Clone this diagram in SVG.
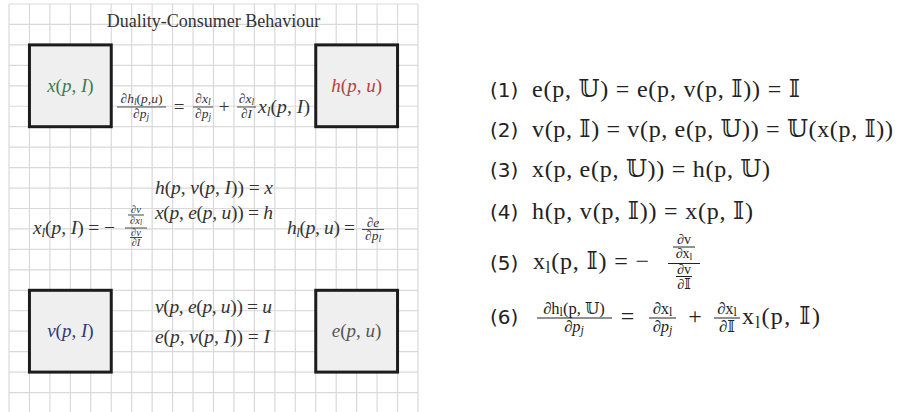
<svg xmlns="http://www.w3.org/2000/svg" width="898" height="412" viewBox="0 0 898 412">
<style>
.grid{stroke:#d9d9d9;stroke-width:1.2;fill:none}
.box{fill:#efefef;stroke:#1c1c1c;stroke-width:3}
.m{font-family:"Liberation Serif","DejaVu Serif",serif;fill:#333}
.i{font-style:italic}
.bar{stroke:#333;stroke-width:0.9}
.n{font-family:"DejaVu Sans","Liberation Sans",sans-serif;fill:#222}
.r{font-family:"Liberation Serif","DejaVu Serif",serif;fill:#222}
.bar2{stroke:#222;stroke-width:1}
.g{fill:#3b7d52}
.rd{fill:#b5403f}
.bl{fill:#33397e}
.gy{fill:#555}
</style>
<rect width="898" height="412" fill="#fff"/>
<g id="grid">
<path class="grid" d="M9 4V412M29.45 4V412M49.9 4V412M70.35 4V412M90.8 4V412M111.25 4V412M131.7 4V412M152.15 4V412M172.6 4V412M193.05 4V412M213.5 4V412M233.95 4V412M254.4 4V412M274.85 4V412M295.3 4V412M315.75 4V412M336.2 4V412M356.65 4V412M377.1 4V412M397.55 4V412M418 4V412M9 4H418M9 24.45H418M9 44.9H418M9 65.35H418M9 85.8H418M9 106.25H418M9 126.7H418M9 147.15H418M9 167.6H418M9 188.05H418M9 208.5H418M9 228.95H418M9 249.4H418M9 269.85H418M9 290.3H418M9 310.75H418M9 331.2H418M9 351.65H418M9 372.1H418M9 392.55H418"/>
</g>
<text id="title" class="m" x="213.5" y="27" font-size="18" text-anchor="middle">Duality-Consumer Behaviour</text>
<g id="node-x">
<rect class="box" x="29.45" y="44.9" width="81.8" height="81.8"/>
<text class="m g" x="70.35" y="92" font-size="19" text-anchor="middle"><tspan class="i">x</tspan>(<tspan class="i">p</tspan>, <tspan class="i">I</tspan>)</text>
</g>
<g id="node-h">
<rect class="box" x="315.75" y="44.9" width="81.8" height="81.8"/>
<text class="m rd" x="356.65" y="92" font-size="19" text-anchor="middle"><tspan class="i">h</tspan>(<tspan class="i">p</tspan>, <tspan class="i">u</tspan>)</text>
</g>
<g id="node-v">
<rect class="box" x="29.45" y="290.3" width="81.8" height="81.8"/>
<text class="m bl" x="70.35" y="337" font-size="19" text-anchor="middle"><tspan class="i">v</tspan>(<tspan class="i">p</tspan>, <tspan class="i">I</tspan>)</text>
</g>
<g id="node-e">
<rect class="box" x="315.75" y="290.3" width="81.8" height="81.8"/>
<text class="m gy" x="356.65" y="337" font-size="19" text-anchor="middle"><tspan class="i">e</tspan>(<tspan class="i">p</tspan>, <tspan class="i">u</tspan>)</text>
</g>
<g id="connectors"></g>
<g id="labels">
<text class="m" x="141.5" y="102.5" font-size="13.5" text-anchor="middle">∂<tspan class="i">h</tspan><tspan class="i" font-size="9.5" dy="2">l</tspan><tspan dy="-2">(</tspan><tspan class="i">p</tspan>,<tspan class="i">u</tspan>)</text>
<line class="bar" x1="117" y1="107" x2="166" y2="107"/>
<text class="m" x="141" y="117.5" font-size="13.5" text-anchor="middle">∂<tspan class="i">p</tspan><tspan class="i" font-size="9.5" dy="2">j</tspan></text>
<text class="m" x="179" y="112.5" font-size="19" text-anchor="middle">=</text>
<text class="m" x="203" y="102.5" font-size="13.5" text-anchor="middle">∂<tspan class="i">x</tspan><tspan class="i" font-size="9.5" dy="2">l</tspan></text>
<line class="bar" x1="193" y1="107" x2="213" y2="107"/>
<text class="m" x="203" y="117.5" font-size="13.5" text-anchor="middle">∂<tspan class="i">p</tspan><tspan class="i" font-size="9.5" dy="2">j</tspan></text>
<text class="m" x="224" y="112.5" font-size="19" text-anchor="middle">+</text>
<text class="m" x="246.5" y="102.5" font-size="13.5" text-anchor="middle">∂<tspan class="i">x</tspan><tspan class="i" font-size="9.5" dy="2">l</tspan></text>
<line class="bar" x1="237" y1="107" x2="256" y2="107"/>
<text class="m" x="246.5" y="117.5" font-size="13.5" text-anchor="middle">∂<tspan class="i">I</tspan></text>
<text class="m" x="258" y="112.5" font-size="19" textLength="52" lengthAdjust="spacingAndGlyphs"><tspan class="i">x</tspan><tspan class="i" font-size="13" dy="3">l</tspan><tspan dy="-3">(</tspan><tspan class="i">p</tspan>, <tspan class="i">I</tspan>)</text>
<text class="m" x="155" y="194" font-size="19.5" textLength="118" lengthAdjust="spacing"><tspan class="i">h</tspan>(<tspan class="i">p</tspan>, <tspan class="i">v</tspan>(<tspan class="i">p</tspan>, <tspan class="i">I</tspan>)) = <tspan class="i">x</tspan></text>
<text class="m" x="155" y="219" font-size="19.5" textLength="118" lengthAdjust="spacing"><tspan class="i">x</tspan>(<tspan class="i">p</tspan>, <tspan class="i">e</tspan>(<tspan class="i">p</tspan>, <tspan class="i">u</tspan>)) = <tspan class="i">h</tspan></text>
<text class="m" x="33" y="234" font-size="19.5" textLength="82" lengthAdjust="spacing"><tspan class="i">x</tspan><tspan class="i" font-size="13" dy="3">l</tspan><tspan dy="-3">(</tspan><tspan class="i">p</tspan>, <tspan class="i">I</tspan>) = −</text>
<text class="m" x="136" y="212.5" font-size="10.5" text-anchor="middle">∂<tspan class="i">v</tspan></text>
<line class="bar" x1="128" y1="215" x2="144" y2="215" stroke-width="0.6"/>
<text class="m" x="136" y="223.5" font-size="10.5" text-anchor="middle">∂<tspan class="i">x</tspan><tspan class="i" font-size="7.5" dy="1.5">l</tspan></text>
<line class="bar" x1="125" y1="228" x2="147" y2="228"/>
<text class="m" x="136" y="235.5" font-size="10.5" text-anchor="middle">∂<tspan class="i">v</tspan></text>
<line class="bar" x1="130" y1="237.5" x2="142" y2="237.5" stroke-width="0.6"/>
<text class="m" x="136" y="245.5" font-size="10.5" text-anchor="middle">∂<tspan class="i">I</tspan></text>
<text class="m" x="287" y="234" font-size="19.5" textLength="68" lengthAdjust="spacing"><tspan class="i">h</tspan><tspan class="i" font-size="13" dy="3">l</tspan><tspan dy="-3">(</tspan><tspan class="i">p</tspan>, <tspan class="i">u</tspan>) =</text>
<text class="m" x="373" y="226.5" font-size="13.5" text-anchor="middle">∂<tspan class="i">e</tspan></text>
<line class="bar" x1="362" y1="229.5" x2="384" y2="229.5"/>
<text class="m" x="373" y="240" font-size="13.5" text-anchor="middle">∂<tspan class="i">p</tspan><tspan class="i" font-size="9.5" dy="2">l</tspan></text>
<text class="m" x="155" y="313" font-size="19.5" textLength="117" lengthAdjust="spacing"><tspan class="i">v</tspan>(<tspan class="i">p</tspan>, <tspan class="i">e</tspan>(<tspan class="i">p</tspan>, <tspan class="i">u</tspan>)) = <tspan class="i">u</tspan></text>
<text class="m" x="155" y="343" font-size="19.5" textLength="115" lengthAdjust="spacing"><tspan class="i">e</tspan>(<tspan class="i">p</tspan>, <tspan class="i">v</tspan>(<tspan class="i">p</tspan>, <tspan class="i">I</tspan>)) = <tspan class="i">I</tspan></text>
</g>
<g id="list">
<text class="n" x="490" y="97" font-size="20">(1)</text>
<text class="r" x="532" y="97" font-size="24" textLength="268" lengthAdjust="spacing">e(p, 𝕌) = e(p, v(p, 𝕀)) = 𝕀</text>
<text class="n" x="490" y="137" font-size="20">(2)</text>
<text class="r" x="532" y="137" font-size="24" textLength="361" lengthAdjust="spacing">v(p, 𝕀) = v(p, e(p, 𝕌)) = 𝕌(x(p, 𝕀))</text>
<text class="n" x="490" y="177" font-size="20">(3)</text>
<text class="r" x="532" y="177" font-size="24" textLength="238" lengthAdjust="spacing">x(p, e(p, 𝕌)) = h(p, 𝕌)</text>
<text class="n" x="490" y="219" font-size="20">(4)</text>
<text class="r" x="532" y="219" font-size="24" textLength="221" lengthAdjust="spacing">h(p, v(p, 𝕀)) = x(p, 𝕀)</text>
<text class="n" x="490" y="270" font-size="20">(5)</text>
<text class="r" x="533" y="269" font-size="24" textLength="116" lengthAdjust="spacing">x<tspan font-size="16" dy="4">l</tspan><tspan dy="-4">(p, 𝕀) = −</tspan></text>
<text class="r" x="684" y="244" font-size="14" text-anchor="middle">∂v</text>
<line class="bar2" x1="673" y1="247" x2="695" y2="247" stroke-width="0.8"/>
<text class="r" x="684" y="258" font-size="14" text-anchor="middle">∂x<tspan font-size="10" dy="2">l</tspan></text>
<line class="bar2" x1="668" y1="263.5" x2="700" y2="263.5"/>
<text class="r" x="684" y="273.5" font-size="14" text-anchor="middle">∂v</text>
<line class="bar2" x1="676" y1="276.5" x2="692" y2="276.5" stroke-width="0.8"/>
<text class="r" x="684" y="289" font-size="14" text-anchor="middle">∂𝕀</text>
<text class="n" x="490" y="324" font-size="20">(6)</text>
<text class="r" x="574" y="313.5" font-size="16.5" text-anchor="middle">∂h<tspan font-size="12" dy="2">l</tspan><tspan dy="-2">(p, 𝕌)</tspan></text>
<line class="bar2" x1="537" y1="318" x2="612" y2="318"/>
<text class="r" x="574" y="332" font-size="16.5" text-anchor="middle">∂<tspan class="i">p</tspan><tspan class="i" font-size="12" dy="2">j</tspan></text>
<text class="r" x="627.5" y="324" font-size="24" text-anchor="middle">=</text>
<text class="r" x="662.5" y="313.5" font-size="16.5" text-anchor="middle">∂x<tspan font-size="12" dy="2">l</tspan></text>
<line class="bar2" x1="649" y1="318" x2="676" y2="318"/>
<text class="r" x="662.5" y="332" font-size="16.5" text-anchor="middle">∂<tspan class="i">p</tspan><tspan class="i" font-size="12" dy="2">j</tspan></text>
<text class="r" x="695" y="324" font-size="24" text-anchor="middle">+</text>
<text class="r" x="727" y="313.5" font-size="16.5" text-anchor="middle">∂x<tspan font-size="12" dy="2">l</tspan></text>
<line class="bar2" x1="714" y1="318" x2="740" y2="318"/>
<text class="r" x="727" y="332" font-size="16.5" text-anchor="middle">∂𝕀</text>
<text class="r" x="742" y="324" font-size="24" textLength="78" lengthAdjust="spacing">x<tspan font-size="16" dy="4">l</tspan><tspan dy="-4">(p, 𝕀)</tspan></text>
</g>
</svg>
